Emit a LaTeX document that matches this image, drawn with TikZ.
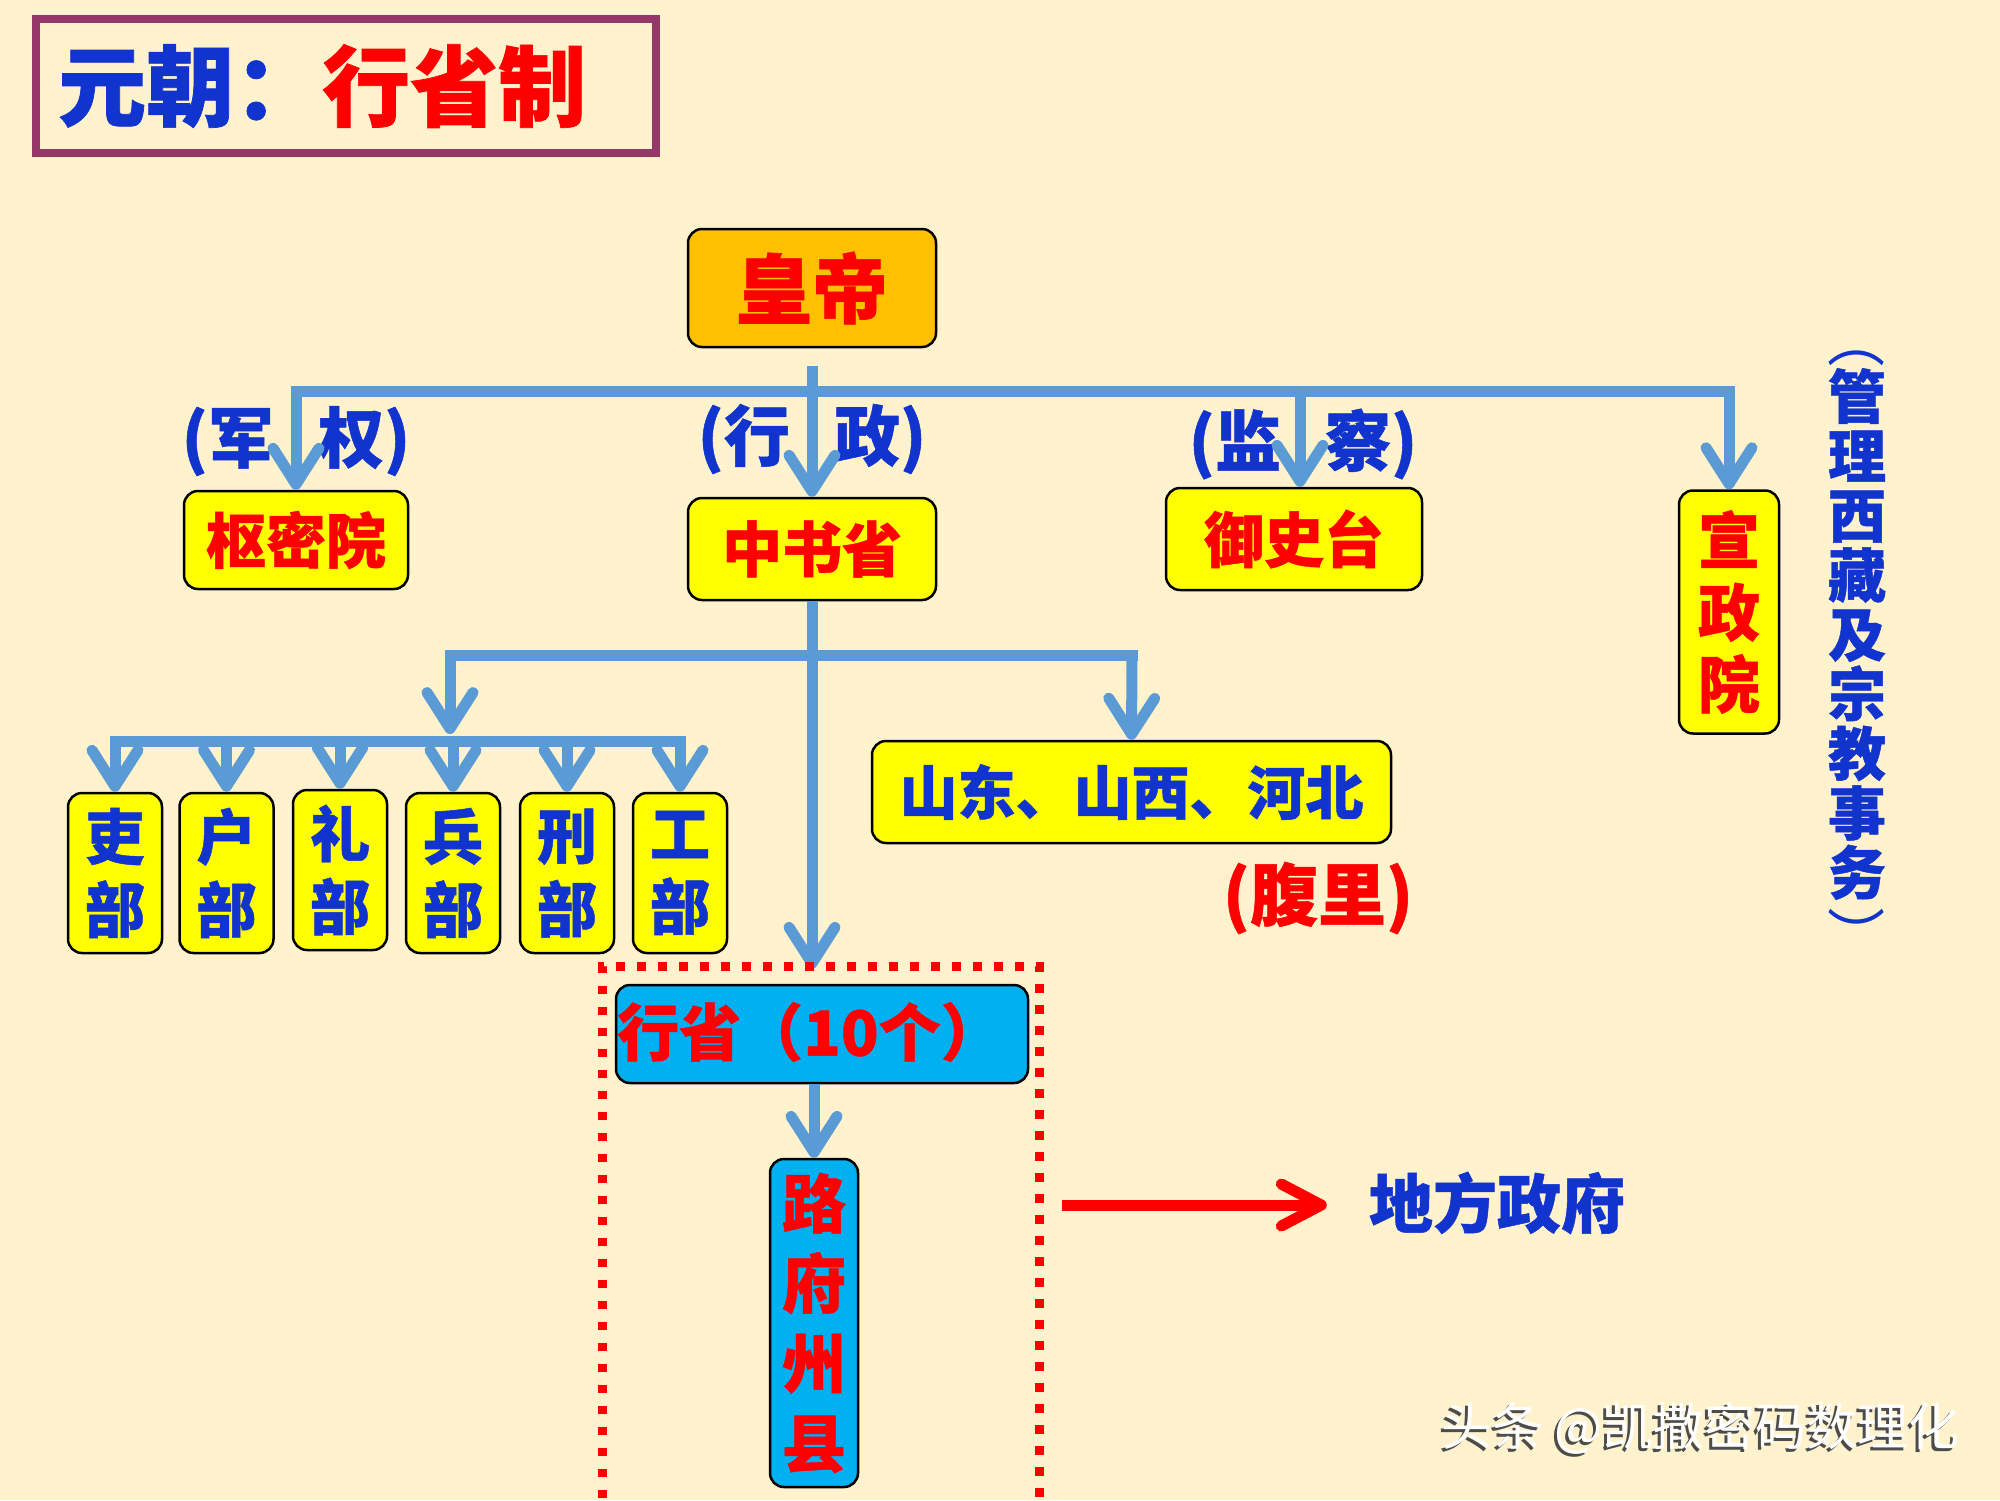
\documentclass[tikz,border=0pt]{standalone}
\usepackage{fontspec}
\newfontfamily\cjk{Noto Sans CJK SC}[BoldFeatures={FakeBold=0.8}]
\usetikzlibrary{arrows.meta}
\definecolor{bg}{RGB}{255,242,204}
\definecolor{cblue}{RGB}{91,155,213}
\definecolor{tblue}{RGB}{16,52,205}
\definecolor{tred}{RGB}{255,0,0}
\definecolor{ybox}{RGB}{255,255,0}
\definecolor{obox}{RGB}{255,192,0}
\definecolor{cbox}{RGB}{0,176,240}
\definecolor{tborder}{RGB}{150,55,105}
\tikzset{
  conn/.style={draw=cblue, line width=11pt},
  arr/.style={conn, -{Straight Barb[length=36pt,width=46pt,round]}},
  redarr/.style={draw=tred, line width=11pt, -{Straight Barb[length=40pt,width=42pt,round]}},
  reddash/.style={draw=tred, line width=9pt, dash pattern=on 8.5pt off 12.5pt},
  boxbase/.style={draw=black, line width=2.5pt, rounded corners=14pt, inner sep=0pt, align=center},
  ybx/.style={boxbase, fill=ybox},
  obx/.style={boxbase, fill=obox},
  cbx/.style={boxbase, fill=cbox},
  fs/.style n args={2}{font={\cjk\bfseries\fontsize{#1pt}{#2pt}\selectfont}},
  txt/.style={inner sep=0pt, align=center},
  mbox/.style={ybx, minimum width=94pt, minimum height=160pt, fs={60}{73}, text=tblue},
  vparen/.style={txt, font={\cjk\fontsize{58pt}{58pt}\selectfont}, text=tblue, rotate=-90},
}
\begin{document}
\begin{tikzpicture}[x=1pt,y=-1pt]
\useasboundingbox (0,0) rectangle (2000,1500);
\clip (0,0) rectangle (2000,1500);
\fill[bg] (0,0) rectangle (2000,1500);

% title
\node[draw=tborder, line width=8pt, minimum width=620pt, minimum height=134pt, inner sep=0pt] (tbox) at (346,86) {};
\node[txt, anchor=west, fs={88}{100}] (title) at (58,86) {\color{tblue}元朝：\color{tred}行省制};

% boxes
\node[obx, minimum width=248pt, minimum height=118pt, fs={76}{76}, text=tred] (emp) at (812,288) {皇帝};
\node[ybx, minimum width=224pt, minimum height=98pt, fs={60}{60}, text=tred] (smy) at (296,540) {枢密院};
\node[ybx, minimum width=248pt, minimum height=102pt, fs={60}{60}, text=tred] (zsx) at (812,549) {中书省};
\node[ybx, minimum width=256pt, minimum height=102pt, fs={60}{60}, text=tred] (yst) at (1294,539) {御史台};
\node[ybx, minimum width=100pt, minimum height=243pt, fs={62}{72}, text=tred] (xzy) at (1729,612) {宣\\政\\院};

\node[mbox] (m1) at (115,873) {吏\\部};
\node[mbox] (m2) at (226.5,873) {户\\部};
\node[mbox] (m3) at (340,870) {礼\\部};
\node[mbox] (m4) at (453,873) {兵\\部};
\node[mbox] (m5) at (567,873) {刑\\部};
\node[mbox] (m6) at (680,873) {工\\部};

\node[ybx, minimum width=519pt, minimum height=102pt, fs={58}{58}, text=tblue] (sds) at (1131.5,792) {山东、山西、河北};

\node[cbx, minimum width=412pt, minimum height=98pt] (xs) at (822,1034) {};
\node[txt, anchor=west, fs={62}{62}, text=tred] (xst) at (617,1032) {行省（10个）};
\node[cbx, minimum width=88pt, minimum height=328pt, fs={64}{80}, text=tred] (lfzx) at (814,1323) {路\\府\\州\\县};

% labels
\node[txt, fs={66}{66}, text=tblue] (lbl1) at (296,441) {(军\hspace{44pt}权)};
\node[txt, fs={66}{66}, text=tblue] (lbl2) at (812,439) {(行\hspace{44pt}政)};
\node[txt, fs={66}{66}, text=tblue] (lbl3) at (1303,444) {(监\hspace{44pt}察)};
\node[txt, fs={68}{68}, text=tred] (fuli) at (1318,898) {(腹里)};
\node[txt, fs={64}{64}, text=tblue] (dfzf) at (1497,1203) {地方政府};
\node[txt, fs={58}{59.5}, text=tblue] (note) at (1857,634) {管\\理\\西\\藏\\及\\宗\\教\\事\\务};
\node[vparen] (np1) at (1857,339) {（};
\node[vparen] (np2) at (1857,935) {）};

% connectors level 1
\coordinate (b1L) at (296,391);
\coordinate (b1R) at (1729,391);
\coordinate (b1M) at (1300,391);
\coordinate (e1) at ([yshift=-18pt]emp.south);
\draw[conn, line cap=rect] (b1L) -- (b1R);
\draw[arr] (b1L) -- (smy.north);
\draw[arr] (e1) -- (zsx.north);
\draw[arr] (b1M) -- (b1M |- yst.north);
\draw[arr] (b1R) -- (xzy.north);

% level 2
\coordinate (b2L) at (450,655);
\coordinate (b2R) at (1132,655);
\coordinate (b3L) at (115,741);
\coordinate (b3R) at (680,741);
\coordinate (b3M) at (450,741);
\draw[conn, line cap=rect] (b2L) -- (b2R);
\draw[arr, shorten >=15pt] (zsx.south) -- (zsx.south |- xs.north);
\draw[arr, shorten >=7pt] (b2L) -- (b3M);
\draw[arr] (b2R) -- (sds.north);
\draw[conn, line cap=rect] (b3L) -- (b3R);
\foreach \m in {m1,m2,m3,m4,m5,m6} {\draw[arr] (\m.north |- b3L) -- (\m.north);}

% level 3
\draw[arr] (lfzx.north |- xs.south) -- (lfzx.north);

% dashed frame
\draw[reddash] (602,1540) -- (602,966) -- (1039,966) -- (1039,1540);

% red arrow
\coordinate (ra) at (1062,1205);
\draw[redarr, shorten >=42pt] (ra) -- (ra -| dfzf.west);

% watermark
\node[txt, anchor=west, font={\cjk\fontsize{51pt}{51pt}\selectfont}, text=black!70] (wms) at (1438,1431) {头条 @凯撒密码数理化};
\node[txt, anchor=west, font={\cjk\fontsize{51pt}{51pt}\selectfont}, text=white] (wm) at (1441,1428) {头条 @凯撒密码数理化};
\end{tikzpicture}
\end{document}
